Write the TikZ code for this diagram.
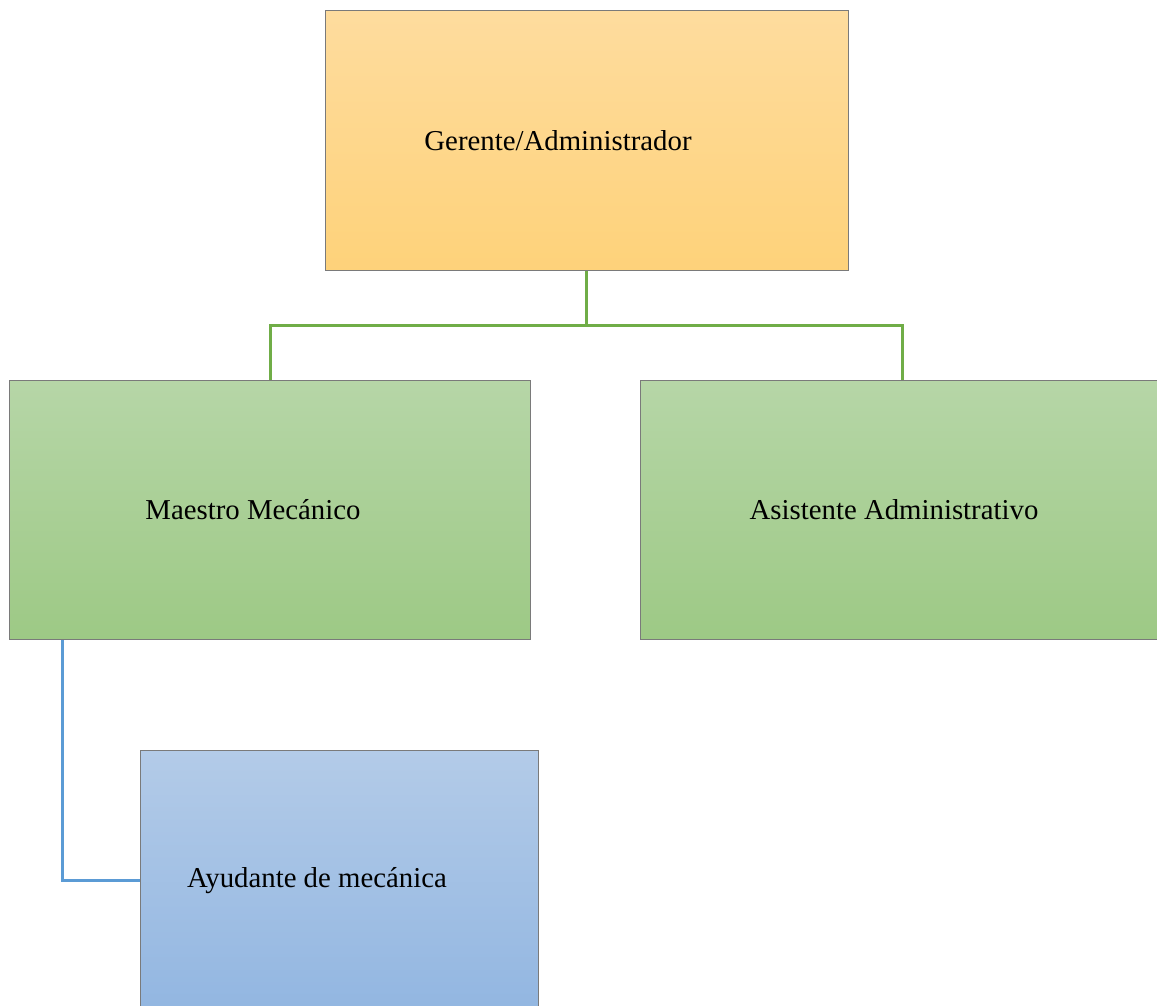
\documentclass[tikz,border=0pt]{standalone}
\usepackage{fontspec}
\setmainfont{Liberation Serif}
\begin{document}
\begin{tikzpicture}[x=1pt,y=-1pt,
  box/.style={draw=black!52, line width=1.4pt, rectangle, inner sep=0pt, anchor=north west},
  lbl/.style={font=\fontsize{28.8}{34}\selectfont, inner sep=0pt},
  orangebox/.style={box, top color={rgb,255:red,254;green,220;blue,158}, bottom color={rgb,255:red,254;green,210;blue,122}},
  greenbox/.style={box, top color={rgb,255:red,182;green,214;blue,167}, bottom color={rgb,255:red,157;green,201;blue,133}},
  bluebox/.style={box, top color={rgb,255:red,179;green,203;blue,232}, bottom color={rgb,255:red,146;green,182;blue,225}},
  greenline/.style={draw={rgb,255:red,112;green,173;blue,71}, line width=3pt},
  blueline/.style={draw={rgb,255:red,91;green,155;blue,213}, line width=3pt}]
\useasboundingbox (0,0) rectangle (1157,1005);

% boxes
\node[orangebox, minimum width=523pt, minimum height=260pt] (ger) at (325,10) {};
\node[greenbox, minimum width=521pt, minimum height=259pt] (mae) at (9,380) {};
\node[greenbox, minimum width=530pt, minimum height=259pt] (asi) at (640,380) {};
\node[bluebox, minimum width=398pt, minimum height=262pt] (ayu) at (140,750) {};

% labels
\node[lbl] (gert) at (558,141) {Gerente/Administrador};
\node[lbl] (maet) at (253,510) {Maestro Mecánico};
\node[lbl] (asit) at (894,510) {Asistente Administrativo};
\node[lbl] (ayut) at (317,881) {Ayudante de mecánica};

% connectors
\coordinate (bus) at (586,325);
\draw[greenline] (ger.south -| bus) -- (bus);
\draw[greenline] (mae.north -| 270,0) |- (bus) -| (asi.north -| 902,0);
\draw[blueline] (mae.south -| 62,0) |- (ayu.west |- 0,880);
\end{tikzpicture}
\end{document}
